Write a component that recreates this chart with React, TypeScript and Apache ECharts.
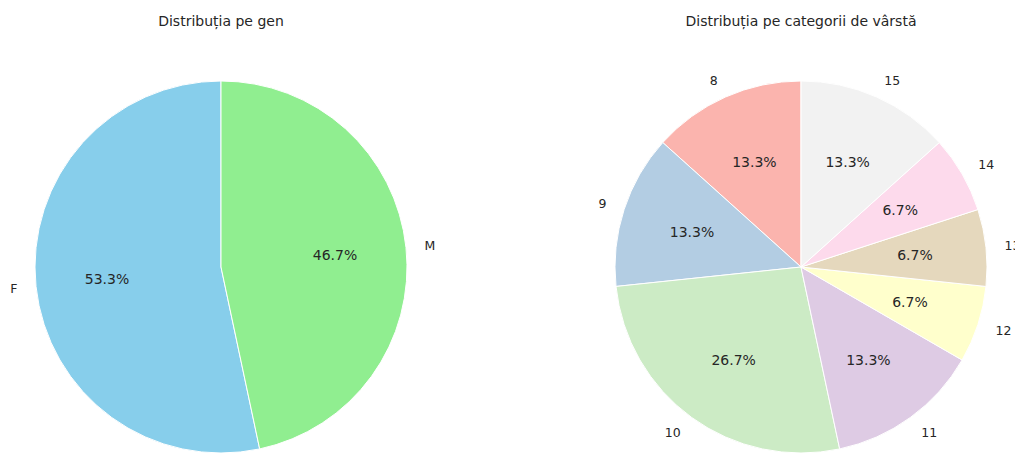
import React, { useEffect, useRef } from "react";
import * as echarts from "echarts";

const genderTitle = "Distribuția pe gen";
const genderLabels = ["F", "M"];
const genderCounts = [8, 7];
const genderColors = ["#87ceeb", "#90ee90"];

const ageTitle = "Distribuția pe categorii de vârstă";
const ageLabels = ["8", "9", "10", "11", "12", "13", "14", "15"];
const ageCounts = [2, 2, 4, 2, 1, 1, 1, 2];
const ageColors = ["#fbb4ae", "#b3cde3", "#ccebc5", "#decbe4", "#ffffcc", "#e5d8bd", "#fddaec", "#f2f2f2"];

const FONT = "DejaVu Sans";
const R = 186;

function pieSeries(labels: string[], values: number[], colors: string[], cx: number, cy: number) {
  const total = values.reduce((a, b) => a + b, 0);
  const base = labels.map((l, i) => ({ name: l, value: values[i], itemStyle: { color: colors[i] } }));
  return [
    {
      type: "pie",
      center: [cx, cy],
      radius: [0, R],
      startAngle: 90,
      clockwise: false,
      avoidLabelOverlap: false,
      silent: true,
      data: base,
      itemStyle: { borderColor: "#ffffff", borderWidth: 1 },
      label: {
        show: true,
        position: "outside",
        formatter: "{b}",
        fontFamily: FONT,
        fontSize: 12.5,
        color: "#262626",
        distanceToLabelLine: 0,
      },
      labelLine: { show: false, length: R * 0.1, length2: 0 },
    },
    {
      type: "pie",
      center: [cx, cy],
      radius: [0, R * 1.2],
      startAngle: 90,
      clockwise: false,
      avoidLabelOverlap: false,
      silent: true,
      z: 5,
      data: labels.map((l, i) => ({ name: l, value: values[i] })),
      itemStyle: { color: "rgba(0,0,0,0)", borderWidth: 0 },
      label: {
        show: true,
        position: "inside",
        formatter: (p: any) => ((p.value / total) * 100).toFixed(1) + "%",
        fontFamily: FONT,
        fontSize: 14,
        color: "#262626",
      },
      labelLine: { show: false },
    },
  ];
}

export default function App() {
  const ref = useRef<HTMLDivElement>(null);
  useEffect(() => {
    const chart = echarts.init(ref.current!, null, { renderer: "svg" });
    const titleStyle = (text: string, x: number) => ({
      type: "text",
      x,
      y: 21,
      style: {
        text,
        align: "center",
        verticalAlign: "middle",
        fontFamily: FONT,
        fontSize: 14,
        fill: "#262626",
      },
    });
    chart.setOption({
      animation: false,
      backgroundColor: "#ffffff",
      graphic: [titleStyle(genderTitle, 221), titleStyle(ageTitle, 801)],
      series: [
        ...pieSeries(genderLabels, genderCounts, genderColors, 221, 267),
        ...pieSeries(ageLabels, ageCounts, ageColors, 801, 267),
      ],
    });
    return () => chart.dispose();
  }, []);
  return (
    <div
      ref={ref}
      style={{ position: "fixed", left: 0, top: 0, width: 1015, height: 453 }}
    />
  );
}
